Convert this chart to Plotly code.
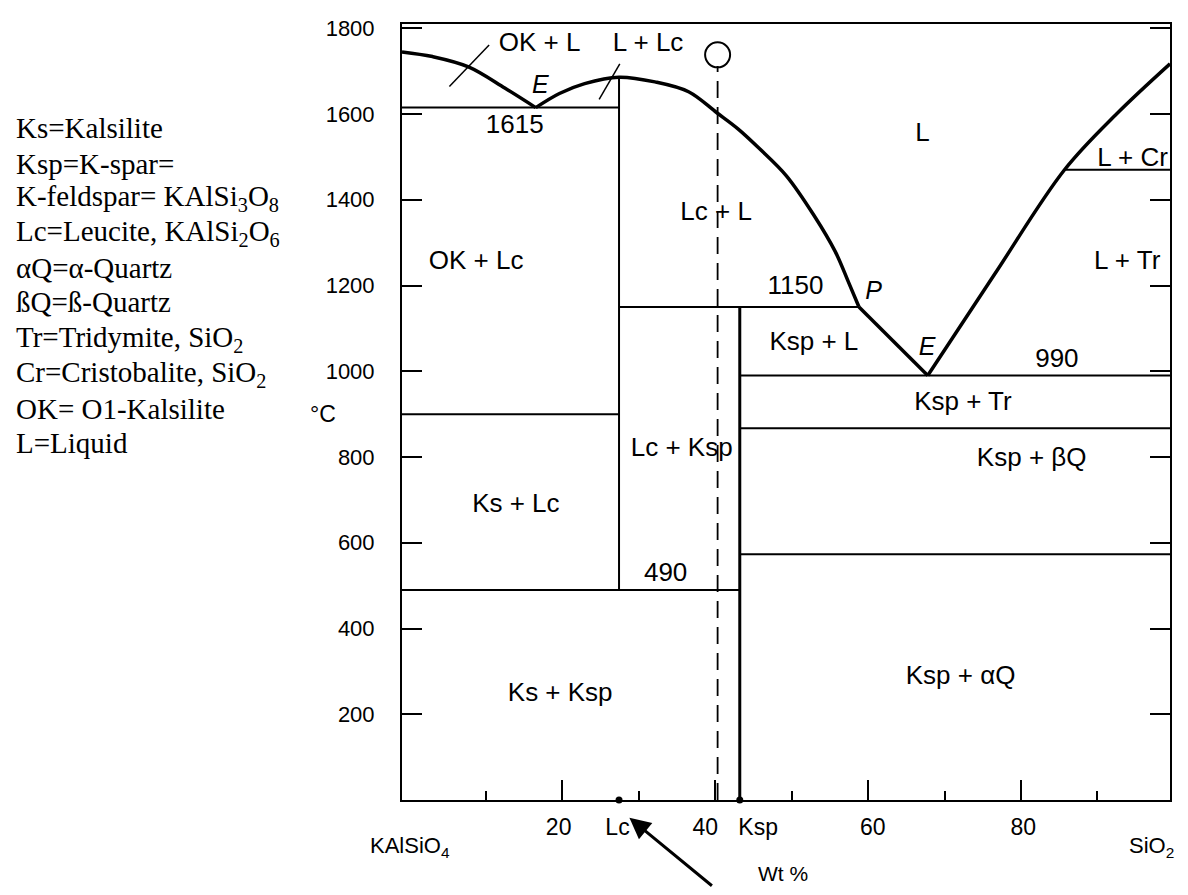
import plotly.graph_objects as go

# ---------------- data (wt% SiO2, temperature in deg C) ----------------
X_RANGE = [-1, 99.5]
Y_RANGE = [0, 1810]

# liquidus branches
liq_ok_x = [-1, 3.0, 7.7, 12.5, 16.5]
liq_ok_t = [1745, 1734, 1710, 1660, 1615]
liq_lc_x = [16.5, 19.6, 22.9, 27.4, 32.1, 36.5, 40.2, 43.0, 45.8, 49.3, 52.9, 55.7, 57.4, 58.8]
liq_lc_t = [1615, 1648, 1671, 1686, 1675, 1652, 1603, 1565, 1519, 1456, 1364, 1279, 1209, 1150]
liq_ksp_x = [58.8, 67.8]
liq_ksp_t = [1150, 990]
liq_sio2_x = [67.8, 76.5, 85.7, 92.5, 99.5]
liq_sio2_t = [990, 1225, 1470, 1600, 1717]

# horizontal isotherms (subsolidus / invariant lines)
iso_t = [1615, 900, 490, 1150, 990, 867, 573, 1470]
iso_x0 = [-1, -1, -1, 27.4, 43.2, 43.2, 43.2, 85.7]
iso_x1 = [27.4, 27.4, 43.2, 58.8, 99.5, 99.5, 99.5, 99.5]

# compound composition lines
lc_x, lc_t0, lc_t1 = 27.4, 490, 1686
ksp_x, ksp_t0, ksp_t1 = 43.2, 0, 1150

# bulk composition (dashed) and marker
bulk_x = 40.3
bulk_t_top = 1712
bulk_marker_t = 1738

# pointer lines for small fields
ptr_ok_x = [5.2, 10.4]
ptr_ok_t = [1664, 1761]
ptr_lc_x = [24.8, 27.5]
ptr_lc_t = [1634, 1717]

# composition dots on axis
dot_x = [27.4, 43.2]
dot_t = [0, 0]

# field labels
lab_text = ["OK + L", "L + Lc", "1615", "L", "L + Cr", "L + Tr", "OK + Lc", "Lc + L",
            "1150", "Ksp + L", "990", "Ksp + Tr", "Lc + Ksp", "Ks + Lc", "Ksp + βQ",
            "490", "Ksp + αQ", "Ks + Ksp"]
lab_x = [17.0, 31.2, 13.75, 67.1, 94.6, 93.9, 8.7, 40.1,
         50.5, 52.9, 84.7, 72.4, 35.6, 13.9, 81.4,
         33.5, 72.1, 19.7]
lab_t = [1763, 1763, 1572, 1553, 1495, 1253, 1253, 1369,
         1195, 1064, 1025, 925, 817, 688, 794,
         526, 286, 245]

# italic point labels (eutectics / peritectic)
pt_text = ["E", "P", "E"]
pt_x = [17.1, 60.7, 67.7]
pt_t = [1664, 1184, 1052]

# axis ticks and labels
y_ticks = [200, 400, 600, 800, 1000, 1200, 1400, 1600, 1800]
x_major = [20, 40, 60, 80]
x_minor = [10, 30, 50, 70, 90]
x_lab_pos = [19.5, 27.2, 38.7, 45.6, 60.6, 80.3]
x_lab_text = ["20", "Lc", "40", "Ksp", "60", "80"]

# legend / abbreviations
legend_lines = ["Ks=Kalsilite", "Ksp=K-spar=", "K-feldspar= KAlSi<sub>3</sub>O<sub>8</sub>",
                "Lc=Leucite, KAlSi<sub>2</sub>O<sub>6</sub>", "αQ=α-Quartz", "ßQ=ß-Quartz",
                "Tr=Tridymite, SiO<sub>2</sub>", "Cr=Cristobalite, SiO<sub>2</sub>",
                "OK= O1-Kalsilite", "L=Liquid"]
legend_py = [122, 158, 193, 228, 263, 298, 335, 370, 405, 440]

# ---------------- geometry helpers (page pixels) ----------------
PAGE_W, PAGE_H = 1188, 895
BODY = 8                      # default page margin around the plot div
W, H = PAGE_W - 2 * BODY, PAGE_H - 2 * BODY
FRAME_L, FRAME_R, FRAME_T, FRAME_B = 402, 1172, 17, 800   # page pixels
ML = FRAME_L - BODY
MR = W - (FRAME_R - BODY)
MT = FRAME_T - BODY
MB = H - (FRAME_B - BODY)
PW, PH = FRAME_R - FRAME_L, FRAME_B - FRAME_T


def px_to_paper_x(px):
    return (px - FRAME_L) / PW


def py_to_paper_y(py):
    return (FRAME_B - py) / PH


SANS = "Liberation Sans, Arial, sans-serif"
SERIF = "Liberation Serif, Times New Roman, serif"

fig = go.Figure()


def line(x, y, width, dash=None, shape="linear"):
    fig.add_trace(go.Scatter(x=x, y=y, mode="lines", hoverinfo="skip", showlegend=False,
                             line=dict(color="black", width=width, dash=dash, shape=shape)))


# liquidus
line(liq_ok_x, liq_ok_t, 3.5, shape="spline")
line(liq_lc_x, liq_lc_t, 3.5, shape="spline")
line(liq_ksp_x, liq_ksp_t, 3.5)
line(liq_sio2_x, liq_sio2_t, 3.5, shape="spline")

# isotherms
iso_xs, iso_ys = [], []
for t, a, b in zip(iso_t, iso_x0, iso_x1):
    iso_xs += [a, b, None]
    iso_ys += [t, t, None]
line(iso_xs, iso_ys, 2)

# composition lines
line([lc_x, lc_x], [lc_t0, lc_t1], 2)
line([ksp_x, ksp_x], [ksp_t0, ksp_t1], 3)

# pointers
line(ptr_ok_x, ptr_ok_t, 1.5)
line(ptr_lc_x, ptr_lc_t, 1.5)

# dashed bulk composition
fig.add_trace(go.Scatter(x=[bulk_x, bulk_x], y=[0, bulk_t_top], mode="lines", showlegend=False,
                         hoverinfo="skip", line=dict(color="black", width=1.8, dash="17px,9px")))
fig.add_trace(go.Scatter(x=[bulk_x], y=[bulk_marker_t], mode="markers", showlegend=False,
                         hoverinfo="skip",
                         marker=dict(symbol="circle-open", size=25, color="black",
                                     line=dict(width=2, color="black"))))

# dots on the composition axis
fig.add_trace(go.Scatter(x=dot_x, y=dot_t, mode="markers", showlegend=False, hoverinfo="skip",
                         cliponaxis=False, marker=dict(size=7, color="black")))

# field labels
fig.add_trace(go.Scatter(x=lab_x, y=lab_t, mode="text", text=lab_text, showlegend=False,
                         hoverinfo="skip", textfont=dict(family=SANS, size=26, color="black")))
fig.add_trace(go.Scatter(x=pt_x, y=pt_t, mode="text", text=[f"<i>{t}</i>" for t in pt_text],
                         showlegend=False, hoverinfo="skip",
                         textfont=dict(family=SANS, size=25, color="black")))

# invisible trace to anchor the label axis
fig.add_trace(go.Scatter(x=[X_RANGE[0]], y=[Y_RANGE[0]], xaxis="x2", yaxis="y", mode="markers",
                         marker=dict(opacity=0), showlegend=False, hoverinfo="skip"))


def page_text(txt, px, py, size, family=SANS, xanchor="center"):
    return dict(text=txt, xref="paper", yref="paper", x=px_to_paper_x(px), y=py_to_paper_y(py),
                xanchor=xanchor, yanchor="middle", showarrow=False,
                font=dict(family=family, size=size, color="black"))


annotations = [page_text(txt, 13, py, 29, SERIF, "left")
               for txt, py in zip(legend_lines, legend_py)]
annotations += [
    page_text("°C", 323, 411, 23),
    page_text("KAlSiO<sub>4</sub>", 410, 847, 22),
    page_text("SiO<sub>2</sub>", 1178, 847, 22, xanchor="right"),
    page_text("Wt %", 784, 874, 21),
    dict(text="", xref="paper", yref="paper", x=px_to_paper_x(630), y=py_to_paper_y(818),
         ax=84, ay=82, showarrow=True, arrowhead=2, arrowsize=1.4, arrowwidth=3,
         arrowcolor="black"),
]

fig.update_layout(
    width=W, height=H,
    margin=dict(l=ML, r=MR, t=MT, b=MB),
    paper_bgcolor="white", plot_bgcolor="white",
    showlegend=False,
    annotations=annotations,
    xaxis=dict(range=X_RANGE, showgrid=False, zeroline=False, showline=True, linecolor="black",
               linewidth=2, mirror=True, ticks="inside", tickvals=x_major, ticklen=20,
               tickwidth=2, tickcolor="black", showticklabels=False,
               minor=dict(tickvals=x_minor, ticks="inside", ticklen=9, tickwidth=2,
                          tickcolor="black")),
    xaxis2=dict(range=X_RANGE, overlaying="x", anchor="y", side="bottom", showgrid=False,
                zeroline=False, showline=False, ticks="", tickvals=x_lab_pos,
                ticktext=x_lab_text, ticklabelstandoff=11,
                tickfont=dict(family=SANS, size=23, color="black")),
    yaxis=dict(range=Y_RANGE, showgrid=False, zeroline=False, showline=True, linecolor="black",
               linewidth=2, mirror="ticks", ticks="inside", tickvals=y_ticks,
               ticktext=[str(v) for v in y_ticks], ticklen=20, tickwidth=2, tickcolor="black",
               ticklabelstandoff=21, tickfont=dict(family=SANS, size=22, color="black")),
)

fig.write_html("out.html")
